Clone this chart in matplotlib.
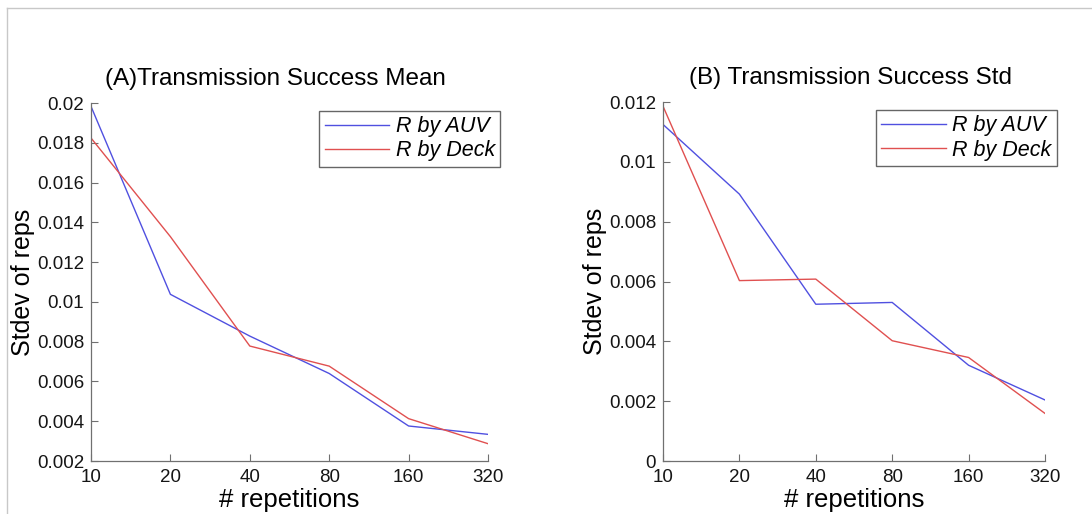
import numpy as np
import matplotlib.pyplot as plt
from matplotlib.lines import Line2D

plt.rcParams['font.family'] = ['Liberation Sans', 'DejaVu Sans']

reps = [10, 20, 40, 80, 160, 320]
rep_labels = ['10', '20', '40', '80', '160', '320']

# panel A: transmission success mean
mean_auv = [0.01983, 0.01038, 0.00828, 0.00640, 0.00376, 0.00334]
mean_deck = [0.01824, 0.01328, 0.00778, 0.00677, 0.00413, 0.00287]

# panel B: transmission success std
std_auv = [0.01125, 0.00892, 0.00524, 0.00530, 0.00320, 0.00204]
std_deck = [0.01186, 0.00603, 0.00608, 0.00402, 0.00346, 0.00159]

blue = '#5050e0'
red = '#e05050'


def draw_panel(ax, auv, deck, title, title_x, ylim, yticks, ylabels):
    ax.plot(reps, auv, color=blue, lw=1.0, label='R by AUV')
    ax.plot(reps, deck, color=red, lw=1.0, label='R by Deck')
    ax.set_xscale('log', base=2)
    ax.set_xlim(10, 320)
    ax.set_xticks(reps)
    ax.set_xticklabels(rep_labels)
    ax.minorticks_off()
    ax.set_ylim(*ylim)
    ax.set_yticks(yticks)
    ax.set_yticklabels(ylabels)
    for s in ['top', 'right']:
        ax.spines[s].set_visible(False)
    for s in ['left', 'bottom']:
        ax.spines[s].set_color('#707070')
        ax.spines[s].set_linewidth(0.9)
    ax.tick_params(direction='in', length=5, width=0.8, color='#707070',
                   labelsize=13.5, labelcolor='#151515')
    ax.tick_params(axis='x', pad=6)
    ax.tick_params(axis='y', pad=5)
    ax.set_xlabel('# repetitions', fontsize=18.5, labelpad=1)
    ax.set_ylabel('Stdev of reps', fontsize=18, labelpad=1)
    ax.set_title(title, fontsize=17.5, pad=13, x=title_x)
    leg = ax.legend(loc='upper right', bbox_to_anchor=(1.031, 0.978),
                    frameon=True, fancybox=False,
                    handlelength=3.0, handletextpad=0.3, borderpad=0.25,
                    labelspacing=0.15, borderaxespad=0.0,
                    prop={'style': 'italic', 'size': 15.5})
    leg.get_frame().set_edgecolor('#404040')
    leg.get_frame().set_linewidth(1.0)


fig = plt.figure(figsize=(10.92, 5.14), dpi=100)
ax1 = fig.add_axes([91 / 1092, 1 - 461 / 514, 397 / 1092, 358 / 514])
ax2 = fig.add_axes([663 / 1092, 1 - 461 / 514, 382 / 1092, 359 / 514])

draw_panel(ax1, mean_auv, mean_deck, '(A)Transmission Success Mean', 0.465,
           (0.002, 0.02), np.arange(0.002, 0.0201, 0.002),
           ['0.002', '0.004', '0.006', '0.008', '0.01', '0.012',
            '0.014', '0.016', '0.018', '0.02'])
draw_panel(ax2, std_auv, std_deck, '(B) Transmission Success Std', 0.49,
           (0, 0.012), np.arange(0, 0.0121, 0.002),
           ['0', '0.002', '0.004', '0.006', '0.008', '0.01', '0.012'])

# thin frame along the top and left edges
fig.add_artist(Line2D([7 / 1092, 1], [1 - 8 / 514, 1 - 8 / 514],
                      color='#c8c8c8', lw=1.0, transform=fig.transFigure))
fig.add_artist(Line2D([7 / 1092, 7 / 1092], [0, 1 - 8 / 514],
                      color='#c8c8c8', lw=1.0, transform=fig.transFigure))

fig.savefig('out.png', dpi=100)
